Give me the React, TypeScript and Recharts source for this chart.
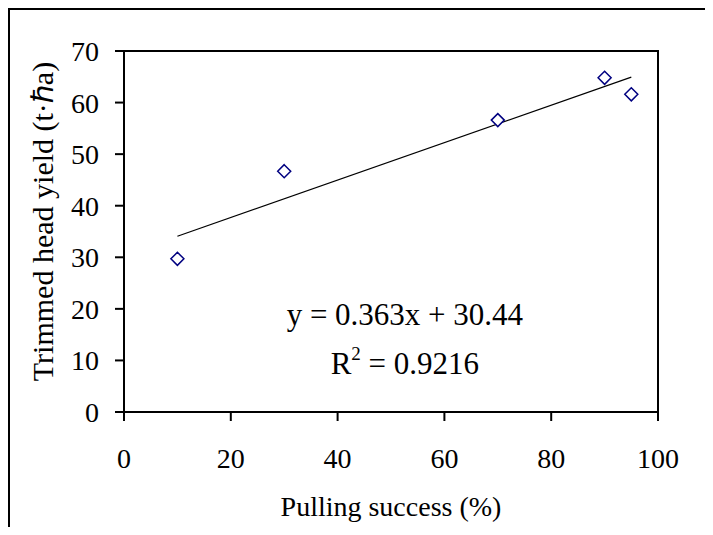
import { ReferenceArea, ReferenceDot, Scatter, ScatterChart, XAxis, YAxis } from "recharts";

const pullingSuccess = [10, 30, 70, 90, 95];
const headYield = [29.7, 46.7, 56.6, 64.8, 61.6];

// fitted line end points
const trendX = [10, 95];
const trendY = [34.07, 64.93];

const xTicks = [0, 20, 40, 60, 80, 100];
const yTicks = [0, 10, 20, 30, 40, 50, 60, 70];

const xLabel = "Pulling success (%)";
const yLabel = "Trimmed head yield (t·ℏa)";
const equationText = "y = 0.363x + 30.44";
const r2Text = "0.9216";

const FONT = "'Liberation Serif', 'Times New Roman', serif";

const points = pullingSuccess.map((x, i) => ({ x, y: headYield[i] }));
const trend = trendX.map((x, i) => ({ x, y: trendY[i] }));

function Diamond(props: any) {
  const { cx, cy } = props;
  const r = 6.5;
  return (
    <path
      d={`M${cx},${cy - r}L${cx + r},${cy}L${cx},${cy + r}L${cx - r},${cy}Z`}
      fill="#fff"
      stroke="#000080"
      strokeWidth={1.5}
    />
  );
}

function EquationLabel(props: any) {
  const { viewBox } = props;
  const cx = viewBox.x + (viewBox.width || 0) / 2;
  const cy = viewBox.y + (viewBox.height || 0) / 2;
  return (
    <text x={cx} y={cy} textAnchor="middle" fontSize={31} fontFamily={FONT} fill="#000">
      <tspan x={cx}>{equationText}</tspan>
      <tspan x={cx} dy={49}>
        R
        <tspan dy={-14} fontSize={19}>
          2
        </tspan>
        <tspan dy={14}>{` = ${r2Text}`}</tspan>
      </tspan>
    </text>
  );
}

export default function App() {
  const tick = { fill: "#000", fontSize: 28, fontFamily: FONT };
  const line = { stroke: "#000", strokeWidth: 2 };

  return (
    <div style={{ position: "relative", width: 705, height: 519, fontFamily: FONT }}>
      <style>{`.recharts-wrapper svg text { font-family: ${FONT} !important; fill: #000; }`}</style>
      <div
        style={{
          position: "absolute",
          inset: 0,
          borderLeft: "2px solid #000",
          borderTop: "2px solid #000",
          pointerEvents: "none",
        }}
      />
      <ScatterChart width={705} height={519} margin={{ top: 43, right: 55, bottom: 5, left: 0 }}>
        <XAxis
          type="number"
          dataKey="x"
          domain={[0, 100]}
          ticks={xTicks}
          interval={0}
          height={110}
          tickSize={9}
          tickMargin={27}
          tick={tick}
          axisLine={line}
          tickLine={line}
          label={{ value: xLabel, position: "insideBottom", offset: 6, fill: "#000", fontSize: 28, fontFamily: FONT }}
        />
        <YAxis
          type="number"
          dataKey="y"
          domain={[0, 70]}
          ticks={yTicks}
          interval={0}
          width={116}
          tickSize={9}
          tickMargin={16}
          tick={tick}
          axisLine={line}
          tickLine={line}
          label={{
            value: yLabel,
            angle: -90,
            position: "insideLeft",
            offset: 34,
            dy: -10,
            fill: "#000",
            fontSize: 30,
            fontFamily: FONT,
            style: { textAnchor: "middle" },
          }}
        />
        <ReferenceArea x1={0} x2={100} y1={0} y2={70} fill="none" stroke="#000" strokeWidth={2} />
        <Scatter
          data={trend}
          line={{ stroke: "#000", strokeWidth: 1.2 }}
          shape={() => <g />}
          isAnimationActive={false}
        />
        <Scatter data={points} shape={Diamond} isAnimationActive={false} />
        <ReferenceDot x={52.6} y={16.9} r={0} fill="none" stroke="none" label={<EquationLabel />} />
      </ScatterChart>
    </div>
  );
}
